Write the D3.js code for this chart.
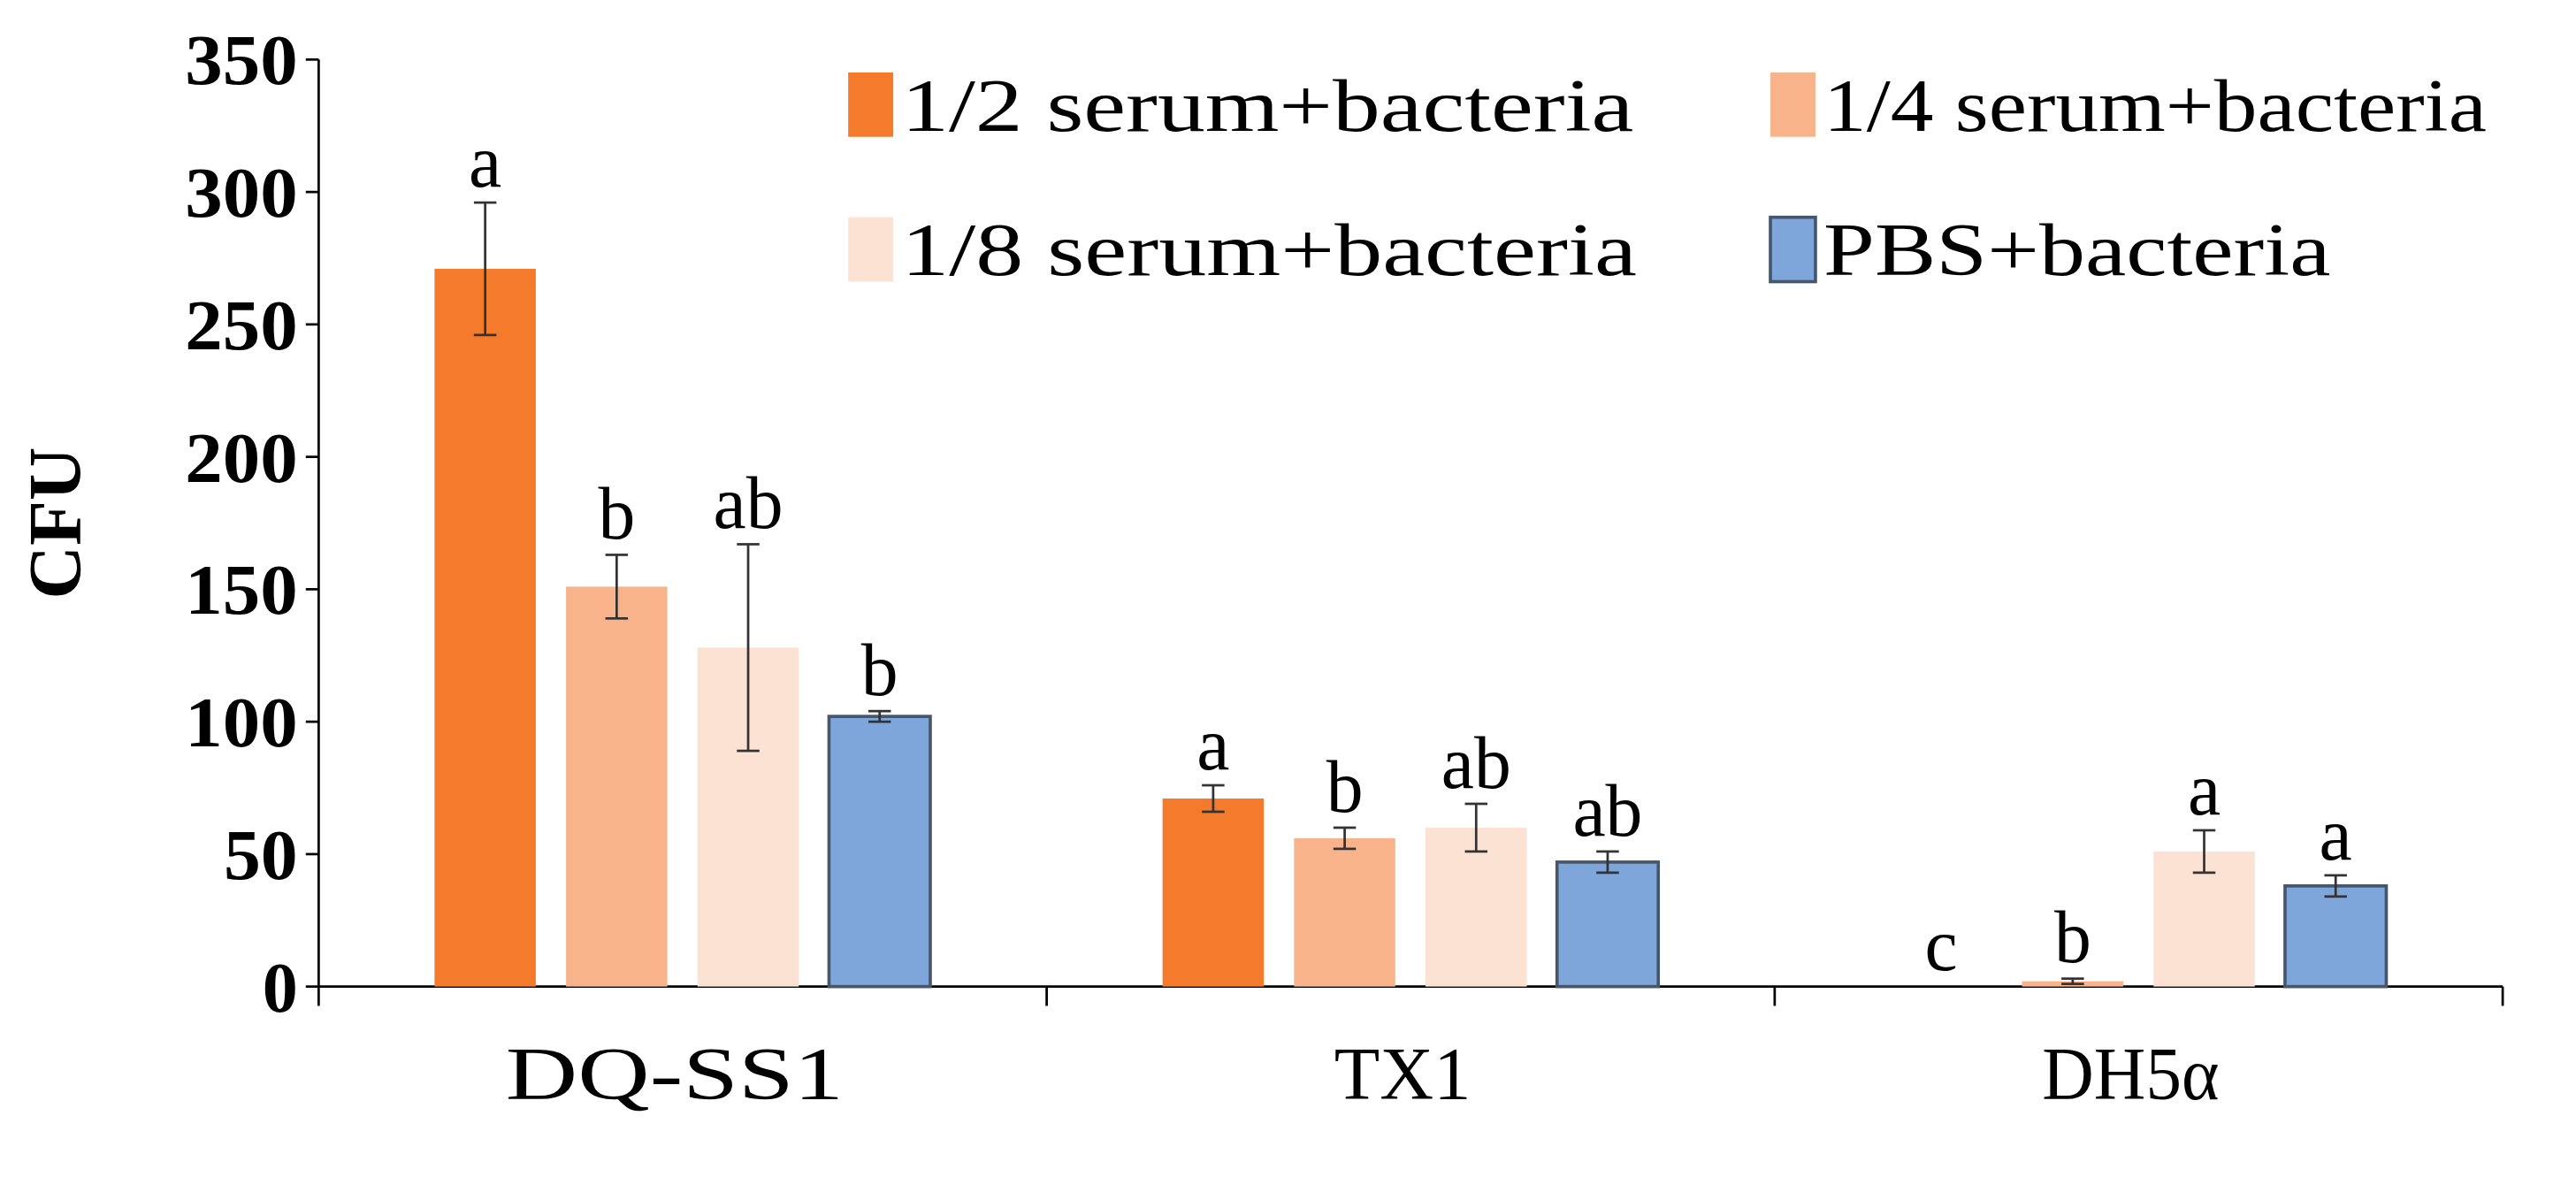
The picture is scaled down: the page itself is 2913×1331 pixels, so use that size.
<!DOCTYPE html>
<html><head><meta charset="utf-8">
<script src="https://cdn.jsdelivr.net/npm/d3@7"></script>
<style>body{margin:0;background:#fff}text{font-family:"Liberation Serif","Times New Roman",serif}</style>
</head><body>
<script>
var groups = ["DQ-SS1", "TX1", "DH5\u03b1"];
var series = ["1/2 serum+bacteria", "1/4 serum+bacteria", "1/8 serum+bacteria", "PBS+bacteria"];
var colors = ["#F47B2B", "#F9B38A", "#FCE2D3", "#7EA6DA"];
var values = [[271, 151, 128, 102], [71, 56, 60, 47], [0, 2, 51, 38]];
var errors = [[25, 12, 39, 2], [5, 4, 9, 4], [0, 1, 8, 4]];
var letters = [["a", "b", "ab", "b"], ["a", "b", "ab", "ab"], ["c", "b", "a", "a"]];
var yTicks = [0, 50, 100, 150, 200, 250, 300, 350];

var W = 2913, H = 1331;
var svg = d3.select("body").append("svg").attr("width", W).attr("height", H);
// image content is about 1600x730 scaled to the window
var g = svg.append("g").attr("transform", "scale(1.82)");

var x0 = d3.scaleBand().domain(groups).range([198, 1555]);
var x1 = d3.scaleBand().domain(series).range([72, 380]).paddingInner(0.23);
var y = d3.scaleLinear().domain([0, 350]).range([613, 37]);

// axes
g.append("line").attr("x1", 198).attr("x2", 198).attr("y1", 37).attr("y2", 613).attr("stroke", "#000").attr("stroke-width", 1.5);
g.append("line").attr("x1", 198).attr("x2", 1555).attr("y1", 613).attr("y2", 613).attr("stroke", "#000").attr("stroke-width", 1.5);
groups.concat(["end"]).forEach(function (d, i) {
  var xx = i < 3 ? x0(d) : 1555;
  g.append("line").attr("x1", xx).attr("x2", xx).attr("y1", 613).attr("y2", 625).attr("stroke", "#000").attr("stroke-width", 1.5);
});
yTicks.forEach(function (t) {
  g.append("line").attr("x1", 190).attr("x2", 198).attr("y1", y(t)).attr("y2", y(t)).attr("stroke", "#000").attr("stroke-width", 1.5);
  g.append("text").attr("x", 185).attr("y", y(t)).attr("dy", "0.35em").attr("text-anchor", "end")
    .attr("font-size", 44).attr("font-weight", "bold").attr("textLength", t >= 100 ? 70 : t > 0 ? 46 : 22)
    .attr("lengthAdjust", "spacingAndGlyphs").text(t);
});
g.append("text").attr("transform", "translate(50,325) rotate(-90)").attr("text-anchor", "middle")
  .attr("font-size", 46).attr("font-weight", "bold").text("CFU");
var catLen = [210, 85, 110];
groups.forEach(function (d, i) {
  g.append("text").attr("x", x0(d) + x0.bandwidth() / 2 - 5).attr("y", 683).attr("text-anchor", "middle")
    .attr("font-size", 46).attr("textLength", catLen[i]).attr("lengthAdjust", "spacingAndGlyphs").text(d);
});

// bars
groups.forEach(function (grp, gi) {
  var gg = g.append("g").attr("transform", "translate(" + x0(grp) + ",0)");
  series.forEach(function (s, si) {
    var v = values[gi][si], e = errors[gi][si];
    var bx = x1(s), bw = x1.bandwidth(), cx = bx + bw / 2;
    gg.append("rect").attr("x", bx).attr("y", y(v)).attr("width", bw).attr("height", y(0) - y(v))
      .attr("fill", colors[si]).attr("stroke", si === 3 ? "#46566B" : "none").attr("stroke-width", 2);
    if (e > 0) {
      gg.append("line").attr("x1", cx).attr("x2", cx).attr("y1", y(v + e)).attr("y2", y(v - e)).attr("stroke", "#333").attr("stroke-width", 1.5);
      [v + e, v - e].forEach(function (yy) {
        gg.append("line").attr("x1", cx - 7).attr("x2", cx + 7).attr("y1", y(yy)).attr("y2", y(yy)).attr("stroke", "#333").attr("stroke-width", 1.5);
      });
    }
    gg.append("text").attr("x", cx).attr("y", y(v + e) - 10).attr("text-anchor", "middle")
      .attr("font-size", 46).text(letters[gi][si]);
  });
});

// legend
var legPos = [[527, 65], [1100, 65], [527, 155], [1100, 155]];
var legLen = [455, 412, 457, 315];
series.forEach(function (s, i) {
  g.append("rect").attr("x", legPos[i][0]).attr("y", legPos[i][1] - 20).attr("width", 28).attr("height", 40)
    .attr("fill", colors[i]).attr("stroke", i === 3 ? "#46566B" : "none").attr("stroke-width", 2);
  g.append("text").attr("x", legPos[i][0] + 33).attr("y", legPos[i][1]).attr("dy", "0.35em")
    .attr("font-size", 46).attr("textLength", legLen[i]).attr("lengthAdjust", "spacingAndGlyphs").text(s);
});
</script>
</body></html>
